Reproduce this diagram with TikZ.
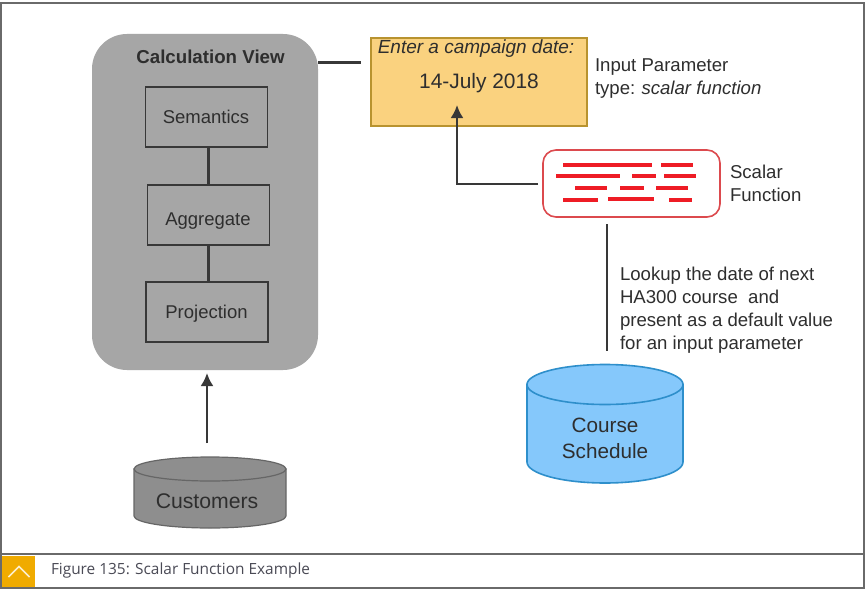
\documentclass[tikz,border=0pt]{standalone}
\usepackage{fontspec}
\setmainfont{Liberation Sans}
\newfontfamily\capfont{Open Sans}
\usetikzlibrary{arrows.meta}
\definecolor{viewgray}{HTML}{A6A6A6}
\definecolor{dbgray}{HTML}{8E8E8E}
\definecolor{dbedge}{HTML}{666666}
\definecolor{inkdark}{HTML}{2E2E2E}
\definecolor{stageedge}{HTML}{383838}
\definecolor{yellowfill}{HTML}{FAD27F}
\definecolor{yellowedge}{HTML}{B8932F}
\definecolor{redline}{HTML}{EE1C25}
\definecolor{rededge}{HTML}{DC4A4E}
\definecolor{bluefill}{HTML}{85C8FB}
\definecolor{blueedge}{HTML}{2E8FCB}
\definecolor{framegray}{HTML}{6A6A6A}
\definecolor{capgold}{HTML}{F0AB00}
\definecolor{captext}{HTML}{4A4A55}
\tikzset{
  x=1pt,y=-1pt,
  every node/.style={inner sep=0pt,outer sep=0pt,text=inkdark},
  stage/.style={draw=stageedge,line width=1.6pt,fill=viewgray,minimum width=122pt,minimum height=60pt},
  stagetext/.style={anchor=base,font=\fontsize{18.5}{22}\selectfont},
  link/.style={draw=stageedge,line width=2.5pt},
  arrowlink/.style={link,-{Latex[length=13pt,width=13pt]}},
  redbar/.style={draw=redline,line width=3.2pt},
  lbl/.style={font=\fontsize{18.6}{22.9}\selectfont,align=left,anchor=north west},
}
\begin{document}
\begin{tikzpicture}
\useasboundingbox (0,0) rectangle (866,591);
\fill[white] (0,0) rectangle (866,591);
% frame
\draw[framegray,line width=2pt] (1,3) rectangle (864,588);
\draw[framegray,line width=2pt] (1,554) -- (864,554);
\node[fill=capgold,minimum width=33pt,minimum height=31.5pt,anchor=north west] (capbox) at (2,555.5) {};
\coordinate (chevl) at (8.5,577);
\coordinate (chevm) at (19,566.5);
\coordinate (chevr) at (29.5,577);
\draw[white!80!capgold,line width=1.5pt] (chevl) -- (chevm) -- (chevr);
\node[anchor=west,font=\capfont\fontsize{15.4}{18}\selectfont,text=captext] (cap) at (51,570.5) {Figure 135: Scalar Function Example};
% calculation view
\node[fill=viewgray,rounded corners=35pt,minimum width=226pt,minimum height=336pt,anchor=north west] (view) at (92,34) {};
\node[font=\bfseries\fontsize{18.7}{22}\selectfont] (viewtitle) at (210.5,56.5) {Calculation View};
\node[stage] (sem) at (206.5,117) {};
\node[stage] (agg) at (208.5,215) {};
\node[stage] (proj) at (207,312) {};
\node[stagetext] (semtext) at (206,123) {Semantics};
\node[stagetext] (aggtext) at (208,225.5) {Aggregate};
\node[stagetext] (projtext) at (206.5,318) {Projection};
\draw[link] (sem.south -| agg.north) -- (agg.north);
\draw[link] (agg.south) -- (agg.south |- proj.north);
% customers
\coordinate (custarrowstart) at (207,443);
\coordinate (viewbase) at (207,373);
\draw[dbedge,line width=1.2pt,fill=dbgray] (134,469) -- (134,516) arc[x radius=76,y radius=12,start angle=180,end angle=0] -- (286,469) -- cycle;
\draw[dbedge,line width=1.2pt,fill=dbgray] (134,469) arc[x radius=76,y radius=12,start angle=180,end angle=-180];
\node[font=\fontsize{21.2}{25}\selectfont] (cust) at (207,501) {Customers};
\draw[arrowlink] (custarrowstart) -- (viewbase);
% input parameter
\node[draw=yellowedge,line width=1.5pt,fill=yellowfill,minimum width=216pt,minimum height=88pt,anchor=north west] (input) at (371,38) {};
\node[font=\itshape\fontsize{19}{22}\selectfont] (prompt) at (476,48.5) {Enter a campaign date:};
\node[font=\fontsize{20.9}{25}\selectfont] (date) at (479,83.5) {14-July 2018};
\node[lbl] (iptext) at (595,59) {Input Parameter\\type:\ \hspace{1pt}\textit{scalar function}};
\coordinate (viewlinestart) at (318,62.5);
\coordinate (viewlineend) at (361,62.5);
\draw[link] (viewlinestart) -- (viewlineend);
% scalar function
\node[draw=rededge,line width=1.6pt,fill=white,rounded corners=13pt,minimum width=177pt,minimum height=67pt,anchor=north west] (scalar) at (543,150) {};
\draw[redbar] (563,165) -- (652,165) (661,165) -- (693,165);
\draw[redbar] (556,176) -- (620,176) (632,176) -- (656,176) (664,176) -- (696,176);
\draw[redbar] (575,188) -- (607,188) (620,188) -- (644,188) (656,188) -- (688,188);
\draw[redbar] (563,200) -- (598,200) (608,199) -- (654,199) (669,200) -- (692,200);
\node[lbl] (sftext) at (730,165) {Scalar\\Function};
\coordinate (scalarout) at (538,184);
\coordinate (elbow) at (457,184);
\coordinate (inputin) at (457,105);
\draw[arrowlink] (scalarout) -- (elbow) -- (inputin);
% course schedule
\draw[blueedge,line width=1.6pt,fill=bluefill] (527,384.5) -- (527,462) arc[x radius=78,y radius=21,start angle=180,end angle=0] -- (683,384.5) -- cycle;
\draw[blueedge,line width=1.6pt,fill=bluefill] (527,384.5) arc[x radius=78,y radius=20,start angle=180,end angle=-180];
\node[font=\fontsize{20.7}{25.5}\selectfont,align=center] (course) at (605,438.5) {Course\\Schedule};
\coordinate (lookupstart) at (607,224);
\coordinate (coursetop) at (607,351);
\draw[link] (lookupstart) -- (coursetop);
\node[lbl] (lookup) at (620,267) {Lookup the date of next\\HA300 course\ \ and\\present as a default value\\for an input parameter};
\end{tikzpicture}
\end{document}
